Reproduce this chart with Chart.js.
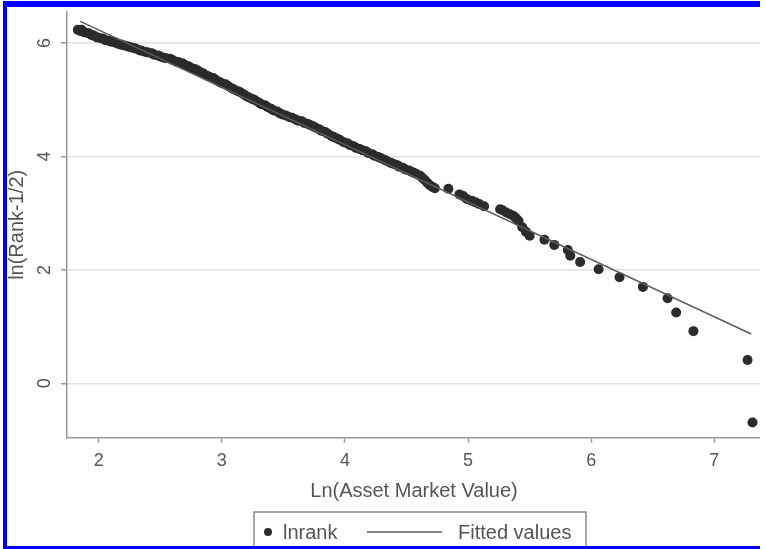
<!DOCTYPE html>
<html lang="en">
<head>
<meta charset="UTF-8">
<title>lnrank vs Ln(Asset Market Value)</title>
<script src="https://cdn.jsdelivr.net/npm/chart.js@4.4.1/dist/chart.umd.min.js"></script>
<style>
  html, body { margin: 0; padding: 0; background: #fff; overflow: hidden; width: 766px; height: 549px; }
  #frame {
    position: absolute;
    left: 3px;
    top: 1px;
    width: 759px;
    height: 539px;
    border-left: 4px solid #0000ff;
    border-top: 6px solid #0000ff;
    border-bottom: 3px solid #0000ff;
    border-right: 0;
  }
  #edge { position: absolute; left: 760px; top: 0; width: 6px; height: 549px; background: #fff; }
  canvas { display: block; }
</style>
</head>
<body>
<div id="frame"><canvas id="chart" width="759" height="539"></canvas></div>
<div id="edge"></div>
<script>
  // ln(asset market value) for each firm
  var lnAsset = [
    1.83, 1.85, 1.86, 1.88, 1.90, 1.92, 1.94, 1.96, 1.98, 2.00,
    2.03, 2.05, 2.08, 2.10, 2.13, 2.15, 2.18, 2.20, 2.23, 2.25,
    2.28, 2.30, 2.33, 2.35, 2.38, 2.40, 2.43, 2.45, 2.48, 2.50,
    2.53, 2.55, 2.58, 2.60, 2.63, 2.65, 2.68, 2.70, 2.73, 2.75,
    2.78, 2.80, 2.83, 2.85, 2.88, 2.90, 2.93, 2.95, 2.98, 3.00,
    3.03, 3.05, 3.08, 3.10, 3.13, 3.15, 3.18, 3.20, 3.22, 3.25,
    3.27, 3.30, 3.32, 3.35, 3.37, 3.40, 3.42, 3.45, 3.47, 3.49,
    3.52, 3.55, 3.57, 3.60, 3.62, 3.65, 3.67, 3.70, 3.72, 3.74,
    3.76, 3.79, 3.81, 3.84, 3.86, 3.89, 3.91, 3.94, 3.96, 3.99,
    4.02, 4.04, 4.07, 4.09, 4.12, 4.14, 4.17, 4.19, 4.22, 4.24,
    4.27, 4.29, 4.32, 4.34, 4.37, 4.39, 4.42, 4.44, 4.47, 4.49,
    4.52, 4.54, 4.56, 4.58, 4.61, 4.63, 4.65, 4.67, 4.69, 4.71,
    4.73, 4.84, 4.93, 4.96, 4.99, 5.03, 5.06, 5.09, 5.13, 5.26,
    5.28, 5.31, 5.34, 5.37, 5.39, 5.41, 5.44, 5.47, 5.50, 5.62,
    5.70, 5.81, 5.83, 5.91, 6.06, 6.23, 6.42, 6.62, 6.69, 6.83,
    7.27, 7.31
  ];
  // ln(rank - 1/2) for the same firms
  var lnRank = [
    6.23, 6.21, 6.23, 6.19, 6.18, 6.17, 6.14, 6.13, 6.10, 6.09,
    6.08, 6.05, 6.04, 6.02, 6.01, 5.99, 5.97, 5.96, 5.94, 5.93,
    5.91, 5.90, 5.87, 5.86, 5.84, 5.83, 5.82, 5.79, 5.78, 5.76,
    5.74, 5.73, 5.72, 5.70, 5.67, 5.66, 5.64, 5.61, 5.59, 5.56,
    5.54, 5.52, 5.48, 5.46, 5.42, 5.40, 5.38, 5.35, 5.31, 5.29,
    5.27, 5.24, 5.20, 5.18, 5.15, 5.13, 5.09, 5.06, 5.04, 5.01,
    4.99, 4.95, 4.92, 4.90, 4.87, 4.84, 4.81, 4.79, 4.76, 4.74,
    4.72, 4.69, 4.68, 4.65, 4.63, 4.62, 4.59, 4.57, 4.55, 4.53,
    4.51, 4.48, 4.45, 4.43, 4.40, 4.36, 4.34, 4.31, 4.29, 4.25,
    4.23, 4.20, 4.18, 4.15, 4.13, 4.11, 4.09, 4.06, 4.04, 4.01,
    3.99, 3.97, 3.94, 3.92, 3.89, 3.87, 3.85, 3.82, 3.80, 3.77,
    3.75, 3.73, 3.71, 3.69, 3.66, 3.62, 3.58, 3.53, 3.49, 3.46,
    3.44, 3.43, 3.33, 3.30, 3.25, 3.22, 3.19, 3.16, 3.12, 3.07,
    3.05, 3.01, 2.98, 2.95, 2.91, 2.86, 2.75, 2.67, 2.60, 2.53,
    2.44, 2.35, 2.25, 2.14, 2.01, 1.87, 1.70, 1.50, 1.25, 0.92,
    0.41, -0.69
  ];
  // fitted values line (end points)
  var fitX = [1.85, 7.30];
  var fitY = [6.38, 0.87];

  var xTicks = [2, 3, 4, 5, 6, 7];
  var yTicks = [0, 2, 4, 6];

  var seriesNames = ['lnrank', 'Fitted values'];
  var xTitle = 'Ln(Asset Market Value)';
  var yTitle = 'ln(Rank-1/2)';

  Chart.defaults.font.family = '"Liberation Sans", Arial, sans-serif';
  Chart.defaults.color = '#555';

  // Stata style legend: framed box with a dot and a long line sample
  var legendBox = {
    id: 'legendBox',
    afterDraw: function(chart) {
      var ctx = chart.ctx;
      var ds = chart.data.datasets;
      ctx.save();
      ctx.strokeStyle = '#8a8a8a';
      ctx.lineWidth = 1.5;
      ctx.strokeRect(247, 505, 332, 45);
      ctx.fillStyle = ds[0].backgroundColor;
      ctx.beginPath();
      ctx.arc(261, 525, 4, 0, Math.PI * 2);
      ctx.fill();
      ctx.strokeStyle = ds[1].borderColor;
      ctx.lineWidth = ds[1].borderWidth;
      ctx.beginPath();
      ctx.moveTo(360, 525);
      ctx.lineTo(435, 525);
      ctx.stroke();
      ctx.fillStyle = '#555';
      ctx.font = '20px "Liberation Sans", Arial, sans-serif';
      ctx.textBaseline = 'middle';
      ctx.fillText(ds[0].label, 276, 526);
      ctx.fillText(ds[1].label, 451, 526);
      ctx.restore();
    }
  };

  var ctx = document.getElementById('chart').getContext('2d');
  var chart = new Chart(ctx, {
    type: 'scatter',
    data: {
      datasets: [
        {
          label: seriesNames[0],
          data: lnAsset.map(function(x, i) { return {x: x, y: lnRank[i]}; }),
          backgroundColor: '#2b2b2b',
          borderWidth: 0,
          pointRadius: 5,
          order: 2
        },
        {
          label: seriesNames[1],
          data: fitX.map(function(x, i) { return {x: x, y: fitY[i]}; }),
          showLine: true,
          borderColor: '#5c5c5c',
          borderWidth: 1.5,
          pointRadius: 0,
          order: 1
        }
      ]
    },
    options: {
      responsive: false,
      animation: false,
      devicePixelRatio: 1,
      layout: { padding: { top: 0, right: 0, bottom: 38.3, left: 0 } },
      plugins: {
        legend: { display: false },
        tooltip: { enabled: false }
      },
      scales: {
        x: {
          type: 'linear',
          min: 1.742,
          max: 7.379,
          afterBuildTicks: function(s) { s.ticks = xTicks.map(function(v) { return {value: v}; }); },
          afterFit: function(s) { s.height = 70; s.paddingLeft = 0; s.paddingRight = 0; },
          ticks: { font: { size: 18 }, padding: 8, maxRotation: 0, autoSkip: false, color: '#555' },
          grid: { drawOnChartArea: false, tickLength: 5, tickColor: '#999', tickWidth: 1.5 },
          border: { color: '#999', width: 1.5 },
          title: { display: true, text: xTitle, font: { size: 20 }, color: '#555', padding: { top: 0, bottom: 4 } }
        },
        y: {
          type: 'linear',
          min: -0.958,
          max: 6.545,
          afterBuildTicks: function(s) { s.ticks = yTicks.map(function(v) { return {value: v}; }); },
          afterFit: function(s) { s.width = 60; s.paddingTop = 0; s.paddingBottom = 0; },
          ticks: { font: { size: 18 }, padding: 11, minRotation: 90, maxRotation: 90, crossAlign: 'center', color: '#555' },
          grid: { color: '#e2e2e2', lineWidth: 1.5, tickLength: 6, tickColor: '#999', tickWidth: 1.5 },
          border: { color: '#999', width: 1.5 },
          title: { display: true, text: yTitle, font: { size: 20, lineHeight: 1 }, color: '#555', padding: 0 }
        }
      }
    },
    plugins: [legendBox]
  });
</script>
</body>
</html>
